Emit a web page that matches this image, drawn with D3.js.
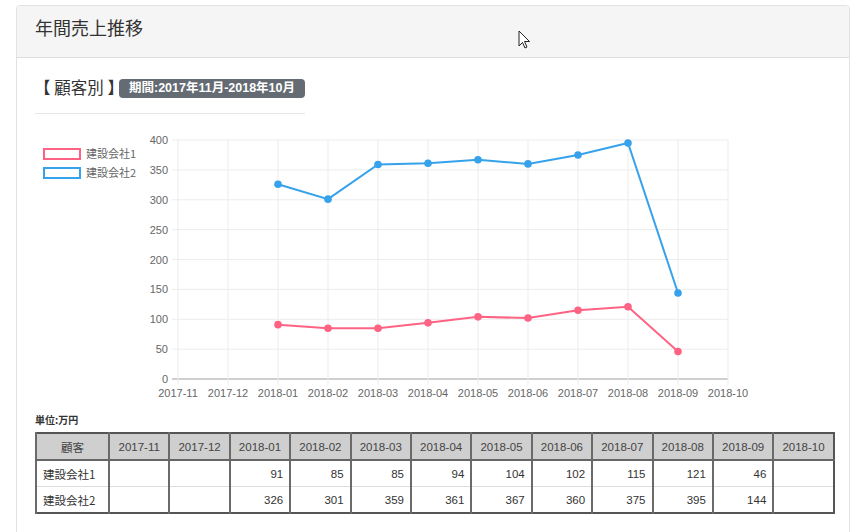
<!DOCTYPE html>
<html><head><meta charset="utf-8">
<script src="https://cdn.jsdelivr.net/npm/d3@7/dist/d3.min.js"></script>
<style>
html,body{margin:0;padding:0;background:#fff;width:859px;height:532px;overflow:hidden;font-family:"Liberation Sans",Arial,"Noto Sans CJK JP",sans-serif;}
#panel{position:absolute;left:16px;top:5px;width:834px;height:540px;border:1px solid #e2e2e2;border-radius:4px;box-sizing:border-box;}
#head{position:absolute;left:0;top:0;right:0;height:51px;background:#f5f5f5;border-bottom:1px solid #ddd;border-radius:4px 4px 0 0;}
#title{position:absolute;left:18px;top:8px;font-family:"Noto Sans CJK JP",sans-serif;font-size:18px;color:#333;}
#sub{position:absolute;left:34px;top:75px;font-family:"Noto Sans CJK JP",sans-serif;font-size:16.5px;color:#333;white-space:nowrap;}
#badge{position:absolute;left:119px;top:79px;width:186px;height:19px;background:#646b72;border-radius:4px;color:#fff;font-weight:bold;font-size:12.5px;line-height:19px;text-align:center;font-family:"Liberation Sans","Noto Sans CJK JP",sans-serif;}
#hr{position:absolute;left:35px;top:113px;width:270px;height:1px;background:#e6e6e6;}
#unit{position:absolute;left:35px;top:412px;font-size:10px;font-weight:bold;color:#333;font-family:"Noto Sans CJK JP",sans-serif;}
svg{position:absolute;left:0;top:0;}
table{position:absolute;left:35px;top:432px;border-collapse:collapse;border:2px solid #555;font-size:11.5px;color:#333;table-layout:fixed;}
td,th{height:25px;padding:0 6px;border-left:2px solid #6a6a6a;border-right:1px solid #999;}
th{background:#cfcfcf;font-weight:normal;color:#444;text-align:center;border-bottom:2px solid #666;}
td{text-align:right;border-top:1px solid #ddd;}
td.name{text-align:left;font-family:"Noto Sans CJK JP",sans-serif;}
th.name{font-family:"Noto Sans CJK JP",sans-serif;}
</style></head>
<body>
<div id="panel"><div id="head"><div id="title">年間売上推移</div></div></div>
<div id="sub">【 顧客別 】</div>
<div id="badge">期間:2017年11月-2018年10月</div>
<div id="hr"></div>
<svg id="chart" width="859" height="532"></svg>
<div id="unit">単位:万円</div>
<table id="tbl"></table>
<script>
const months = ["2017-11","2017-12","2018-01","2018-02","2018-03","2018-04","2018-05","2018-06","2018-07","2018-08","2018-09","2018-10"];
const seriesNames = ["建設会社1","建設会社2"];
const company1 = [null,null,91,85,85,94,104,102,115,121,46,null];
const company2 = [null,null,326,301,359,361,367,360,375,395,144,null];
const yTicks = [0,50,100,150,200,250,300,350,400];
const colors = ["rgb(255,99,132)","rgb(54,162,235)"];
const series = [company1, company2];

const svg = d3.select("#chart");
const x = d3.scalePoint().domain(months).range([178,728]);
const y = d3.scaleLinear().domain([0,400]).range([379,140]);

// grid
const g = svg.append("g");
g.selectAll("line.h").data(yTicks).join("line")
  .attr("x1",172).attr("x2",728).attr("y1",d=>y(d)).attr("y2",d=>y(d))
  .attr("stroke",d=>d===0?"#cfcfcf":"#ececec").attr("stroke-width",d=>d===0?2:1);
g.selectAll("line.v").data(months).join("line")
  .attr("x1",d=>x(d)).attr("x2",d=>x(d)).attr("y1",140).attr("y2",385)
  .attr("stroke","#ececec").attr("stroke-width",1);
g.selectAll("text.y").data(yTicks).join("text")
  .attr("x",168).attr("y",d=>y(d)+4).attr("text-anchor","end")
  .attr("font-size",11).attr("fill","#666").text(d=>d);
g.selectAll("text.x").data(months).join("text")
  .attr("x",d=>x(d)).attr("y",397).attr("text-anchor","middle")
  .attr("font-size",11).attr("fill","#666").text(d=>d);

// lines
const line = d3.line().defined(d=>d.v!=null).x(d=>x(d.m)).y(d=>y(d.v));
series.forEach((s,i)=>{
  const pts = months.map((m,j)=>({m,v:s[j]}));
  svg.append("path").datum(pts).attr("d",line).attr("fill","none")
    .attr("stroke",colors[i]).attr("stroke-width",2);
  svg.append("g").selectAll("circle").data(pts.filter(d=>d.v!=null)).join("circle")
    .attr("cx",d=>x(d.m)).attr("cy",d=>y(d.v)).attr("r",3.8).attr("fill",colors[i]);
});

// legend
const lg = svg.append("g");
seriesNames.forEach((n,i)=>{
  lg.append("rect").attr("x",44).attr("y",149+i*19).attr("width",36).attr("height",10)
    .attr("fill","#fff").attr("stroke",colors[i]).attr("stroke-width",2);
  lg.append("text").attr("x",86).attr("y",158+i*19).attr("font-size",11)
    .attr("fill","#666").attr("font-family","Noto Sans CJK JP, sans-serif").text(n);
});

// mouse cursor
svg.append("path")
  .attr("d","M519,31 L519,46 L522.5,42.5 L525,48 L527,47 L524.5,41.5 L529.5,41.5 Z")
  .attr("fill","#fff").attr("stroke","#222").attr("stroke-width",1).attr("stroke-linejoin","round");

// table
const tbl = d3.select("#tbl");
const cg = tbl.append("colgroup");
cg.append("col").style("width","73px");
months.forEach(()=>cg.append("col").style("width","60.4px"));
const hr = tbl.append("tr");
hr.append("th").attr("class","name").text("顧客");
months.forEach(m=>hr.append("th").text(m));
series.forEach((s,i)=>{
  const tr = tbl.append("tr");
  tr.append("td").attr("class","name").text(seriesNames[i]);
  s.forEach(v=>tr.append("td").text(v==null?"":v));
});
</script>
</body></html>
